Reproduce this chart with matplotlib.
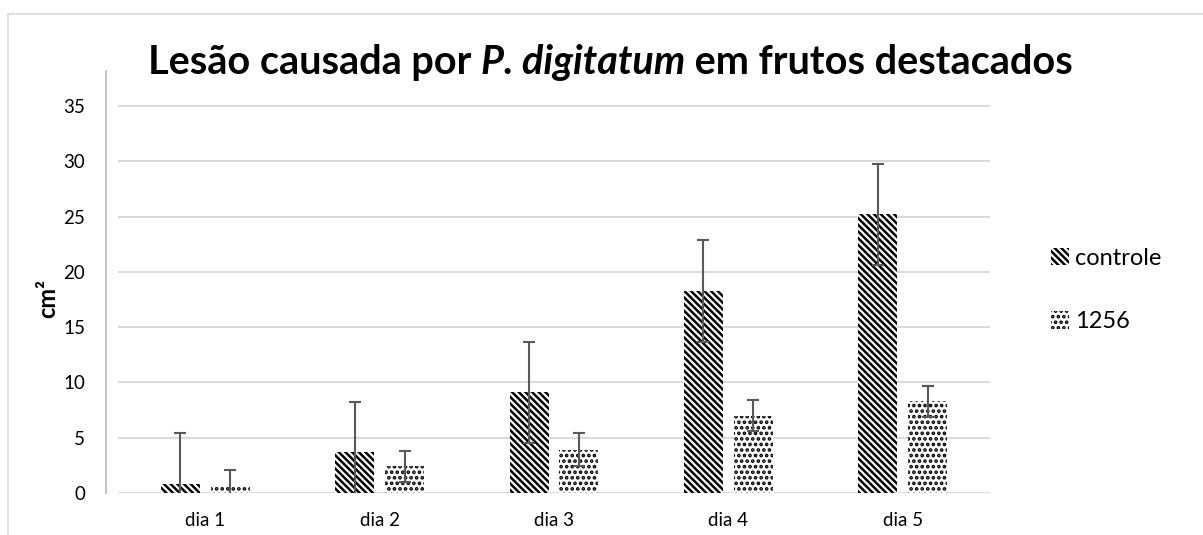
import matplotlib
matplotlib.use("Agg")
import matplotlib.pyplot as plt
from matplotlib.patches import Rectangle
import numpy as np

days = ["dia 1", "dia 2", "dia 3", "dia 4", "dia 5"]
controle = [0.8, 3.7, 9.1, 18.3, 25.2]
controle_err = [4.6, 4.5, 4.6, 4.6, 4.6]
isolado = [0.6, 2.4, 3.9, 7.0, 8.3]
isolado_err = [1.5, 1.4, 1.5, 1.4, 1.4]
series_names = ["controle", "1256"]
yticks = [0, 5, 10, 15, 20, 25, 30, 35]

plt.rcParams["font.family"] = ["Lato", "DejaVu Sans"]
plt.rcParams["hatch.linewidth"] = 1.8

W, H = 1203, 535
fig = plt.figure(figsize=(W / 100, H / 100), dpi=100)
ax = fig.add_axes([118 / W, 1 - 493 / H, (990 - 118) / W, (493 - 71) / H])

x = np.arange(len(days))
bw = 0.224
off = 0.143
err_kw = dict(ecolor="#595959", elinewidth=1.5, capsize=4.5, capthick=1.5)

ax.bar(x - off, controle, bw, color="white", edgecolor="black", linewidth=0,
       hatch="\\" * 5, label=series_names[0], zorder=2)
ax.bar(x + off, isolado, bw, color="white", edgecolor="black", linewidth=0,
       hatch="...", label=series_names[1], zorder=2)
ax.errorbar(x - off, controle, yerr=controle_err, fmt="none", zorder=3, **err_kw)
ax.errorbar(x + off, isolado, yerr=isolado_err, fmt="none", zorder=3, **err_kw)

ax.set_xlim(-0.5, len(days) - 0.5)
ax.set_ylim(0, 38.17)
ax.set_yticks(yticks)
ax.set_xticks(x)
ax.set_xticklabels(days)
ax.tick_params(axis="both", length=0, labelsize=13.5, colors="black")
ax.tick_params(axis="y", pad=15)
ax.tick_params(axis="x", pad=14)

ax.grid(axis="y", color="#d9d9d9", linewidth=1.4, zorder=0)
ax.set_axisbelow(True)
for s in ["top", "right", "bottom"]:
    ax.spines[s].set_visible(False)
ax.spines["left"].set_position(("outward", 8.6))
ax.spines["left"].set_color("#bfbfbf")
ax.spines["left"].set_linewidth(1.3)

ax.set_ylabel("cm²", fontsize=17, fontweight="bold")
ax.yaxis.set_label_coords((59 - 118) / 872, (493 - 299) / 422)

leg = ax.legend(loc="center left", bbox_to_anchor=(1030 / W, 1 - 290 / H),
                bbox_transform=fig.transFigure, frameon=False, fontsize=17,
                handlelength=0.75, handleheight=0.75, handletextpad=0.25,
                labelspacing=1.8)

# chart frame
fig.patches.append(Rectangle((8 / W, -0.1), 1.2, 1 - 14 / H + 0.1,
                             transform=fig.transFigure, fill=False,
                             edgecolor="#d9d9d9", linewidth=1.2))

# title with italic species name
parts = [("Lesão causada por ", "normal"), ("P. digitatum", "italic"),
         (" em frutos destacados", "normal")]
fig.canvas.draw()
renderer = fig.canvas.get_renderer()
xpos = 148 / W
for txt, style in parts:
    t = fig.text(xpos, 1 - 74 / H, txt, fontsize=28.5, fontweight="bold",
                 style=style, va="baseline", ha="left")
    bb = t.get_window_extent(renderer)
    xpos += bb.width / W

fig.savefig("out.png", dpi=100)
